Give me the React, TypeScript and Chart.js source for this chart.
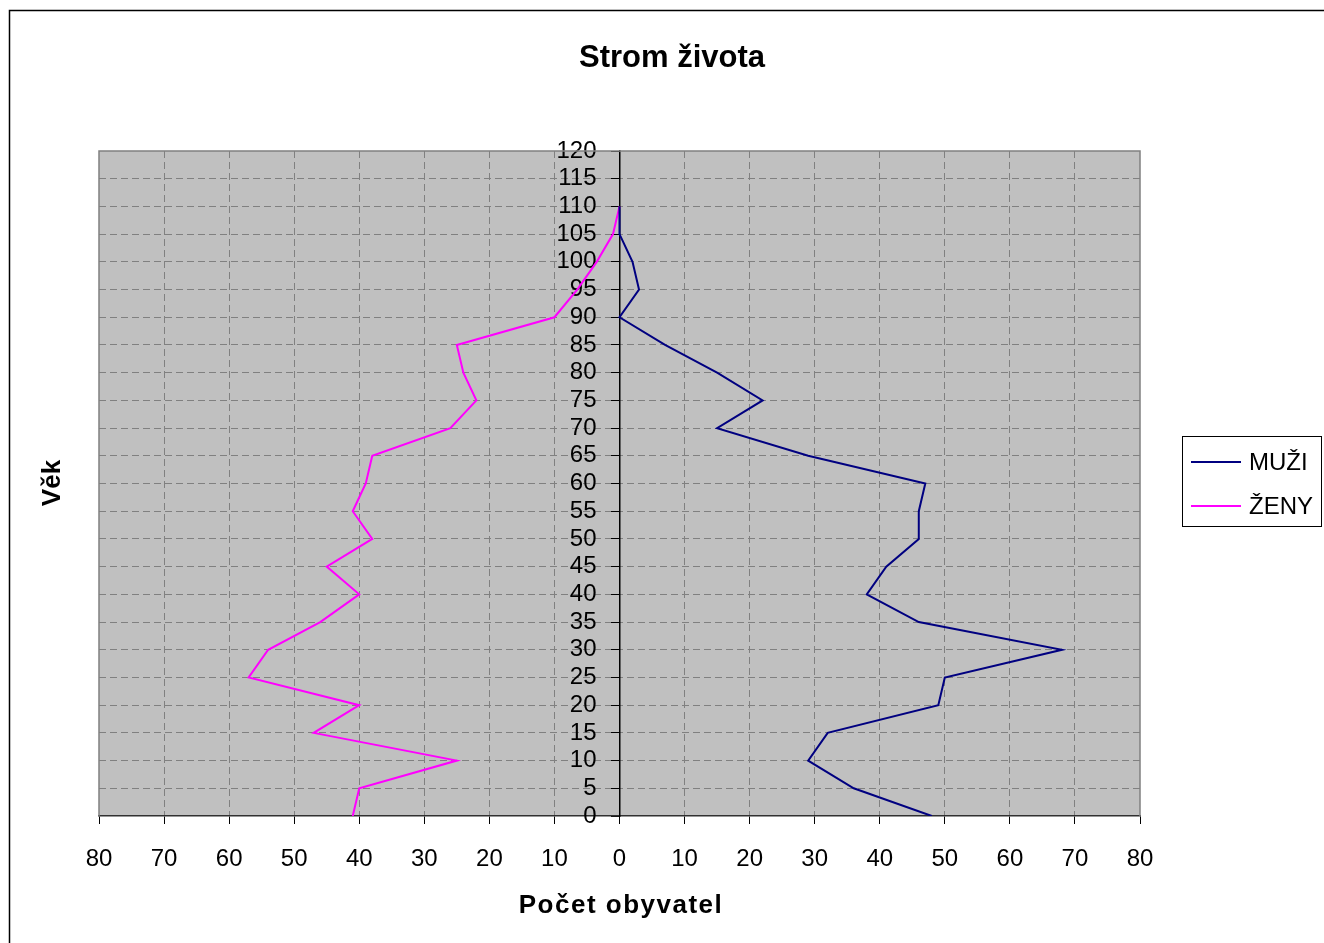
import React, { useEffect, useRef } from "react";
import { Chart, registerables } from "chart.js";

Chart.register(...registerables);

const ages = [0, 5, 10, 15, 20, 25, 30, 35, 40, 45, 50, 55, 60, 65, 70, 75, 80, 85, 90, 95, 100, 105, 110];
const muzi = [48, 36, 29, 32, 49, 50, 68, 46, 38, 41, 46, 46, 47, 29, 15, 22, 15, 7, 0, 3, 2, 0, 0];
const zeny = [41, 40, 25, 47, 40, 57, 54, 46, 40, 45, 38, 41, 39, 38, 26, 22, 24, 25, 10, 6.5, 3.5, 1, 0];

const seriesNames = ["MUŽI", "ŽENY"];
const seriesColors = ["#000080", "#FF00FF"];
const titleText = "Strom života";
const xTitle = "Počet obyvatel";
const yTitle = "Věk";

const FONT = "'Liberation Sans', Arial, sans-serif";
const Y_LABEL_SHIFT = 23;

export default function App() {
  const ref = useRef<HTMLCanvasElement | null>(null);

  useEffect(() => {
    const canvas = ref.current;
    if (!canvas) return;

    const decor = {
      id: "decor",
      beforeDraw(chart: any) {
        const { ctx, chartArea: a } = chart;
        const ys = chart.scales.y;
        if (ys && !ys.__shifted) {
          const orig = ys.drawLabels;
          ys.drawLabels = function (area: any) {
            const c = this.ctx;
            c.save();
            c.translate(-Y_LABEL_SHIFT, 0);
            orig.call(this, area);
            c.restore();
          };
          ys.__shifted = true;
        }
        ctx.save();
        ctx.fillStyle = "#ffffff";
        ctx.fillRect(0, 0, chart.width, chart.height);
        ctx.strokeStyle = "#000000";
        ctx.lineWidth = 1.5;
        ctx.strokeRect(9.5, 10.5, 1400, 1000);
        ctx.fillStyle = "#C0C0C0";
        ctx.fillRect(a.left, a.top, a.right - a.left, a.bottom - a.top);
        ctx.restore();
      },
      beforeDatasetsDraw(chart: any) {
        const { ctx, chartArea: a } = chart;
        ctx.save();
        ctx.strokeStyle = "#808080";
        ctx.lineWidth = 1.5;
        ctx.beginPath();
        ctx.moveTo(a.left, a.bottom);
        ctx.lineTo(a.left, a.top);
        ctx.lineTo(a.right, a.top);
        ctx.lineTo(a.right, a.bottom);
        ctx.stroke();
        ctx.restore();
      },
      afterDraw(chart: any) {
        const { ctx } = chart;
        ctx.save();
        ctx.fillStyle = "#000000";
        ctx.textAlign = "center";
        ctx.textBaseline = "middle";
        ctx.font = `bold 31px ${FONT}`;
        ctx.fillText(titleText, 672, 58);
        ctx.font = `bold 26px ${FONT}`;
        (ctx as any).letterSpacing = "1.5px";
        ctx.fillText(xTitle, 621, 906);
        (ctx as any).letterSpacing = "0px";
        ctx.save();
        ctx.translate(53, 483);
        ctx.rotate(-Math.PI / 2);
        ctx.fillText(yTitle, 0, 0);
        ctx.restore();

        // legend
        ctx.strokeStyle = "#000000";
        ctx.lineWidth = 1;
        ctx.strokeRect(1182.5, 436.5, 139, 90);
        ctx.textAlign = "left";
        ctx.font = `24px ${FONT}`;
        chart.data.datasets.forEach((ds: any, i: number) => {
          const y = 462 + i * 44;
          ctx.strokeStyle = ds.borderColor;
          ctx.lineWidth = 2;
          ctx.beginPath();
          ctx.moveTo(1191, y);
          ctx.lineTo(1241, y);
          ctx.stroke();
          ctx.fillStyle = "#000000";
          ctx.fillText(ds.label, 1249, y + 1);
        });
        ctx.restore();
      },
    };

    const chart = new Chart(canvas, {
      type: "line",
      data: {
        datasets: [
          {
            label: seriesNames[0],
            data: ages.map((a, i) => ({ x: muzi[i], y: a })),
            borderColor: seriesColors[0],
            backgroundColor: seriesColors[0],
            borderWidth: 2,
            pointRadius: 0,
            tension: 0,
            fill: false,
          },
          {
            label: seriesNames[1],
            data: ages.map((a, i) => ({ x: -zeny[i], y: a })),
            borderColor: seriesColors[1],
            backgroundColor: seriesColors[1],
            borderWidth: 2,
            pointRadius: 0,
            tension: 0,
            fill: false,
          },
        ],
      },
      options: {
        animation: false,
        responsive: false,
        devicePixelRatio: 1,
        layout: { padding: { left: 99, right: 184, top: 151, bottom: 0 } },
        plugins: {
          legend: { display: false },
          title: { display: false },
          tooltip: { enabled: false },
        },
        scales: {
          x: {
            type: "linear",
            position: "bottom",
            min: -80,
            max: 80,
            afterFit: (scale: any) => {
              scale.height = 127;
            },
            ticks: {
              stepSize: 10,
              autoSkip: false,
              maxRotation: 0,
              color: "#000000",
              padding: 21,
              font: { family: FONT, size: 24 },
              callback: (v: any) => String(Math.abs(Number(v))),
            },
            grid: {
              color: (c: any) =>
                c.tick && (c.tick.value === 0 || Math.abs(c.tick.value) === 80) ? "rgba(0,0,0,0)" : "#808080",
              lineWidth: 1,
              tickColor: "#000000",
              tickLength: 8,
              tickBorderDash: [],
            },
            border: { display: true, color: "#303030", width: 1.5, dash: [7, 4] },
          } as any,
          y: {
            type: "linear",
            position: { x: 0 } as any,
            min: 0,
            max: 120,
            ticks: {
              stepSize: 5,
              autoSkip: false,
              color: "#000000",
              padding: 13,
              font: { family: FONT, size: 24 },
            },
            grid: {
              color: (c: any) =>
                c.tick && (c.tick.value === 0 || c.tick.value === 120) ? "rgba(0,0,0,0)" : "#808080",
              lineWidth: 1,
              tickColor: "#000000",
              tickLength: 8,
              tickBorderDash: [],
            },
            border: { display: true, color: "#000000", width: 1.5, dash: [7, 4] },
          } as any,
        },
      },
      plugins: [decor],
    } as any);

    return () => chart.destroy();
  }, []);

  return (
    <div style={{ position: "absolute", left: 0, top: 0, width: 1324, height: 943 }}>
      <canvas ref={ref} width={1324} height={943} style={{ width: 1324, height: 943, display: "block" }} />
    </div>
  );
}
